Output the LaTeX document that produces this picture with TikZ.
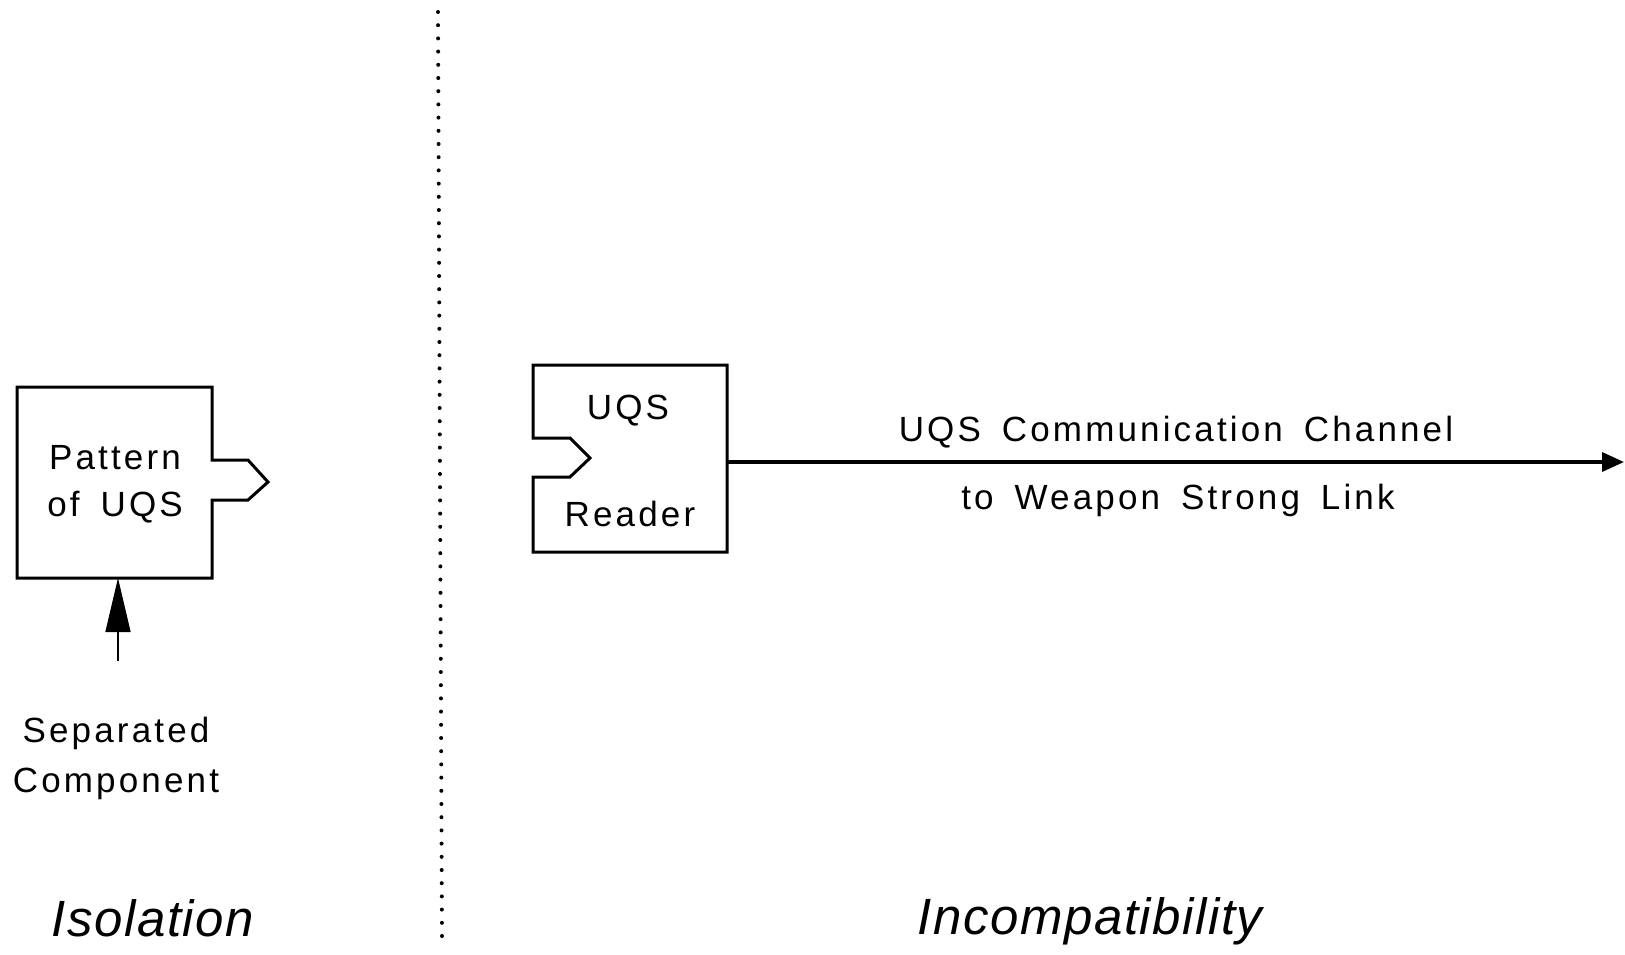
\documentclass[tikz,border=0pt]{standalone}
\usepackage{fontspec}
\setmainfont{Liberation Sans}
\newfontfamily\lblfont{Liberation Sans}[LetterSpace=9]
\newfontfamily\ttlfont{Liberation Sans}[LetterSpace=3]
\usetikzlibrary{arrows.meta}
\begin{document}
\begin{tikzpicture}[x=1pt,y=-1pt,
  lbl/.style={font=\lblfont\fontsize{35}{50}\selectfont, inner sep=0pt, align=center},
  ttl/.style={font=\ttlfont\fontsize{51}{55}\selectfont\itshape, inner sep=0pt},
  box/.style={line width=3pt, line join=miter},
]
\useasboundingbox (0,0) rectangle (1625,954);
% divider
\coordinate (dtop) at (438,12);
\coordinate (dbot) at (442,943);
\draw[line width=4pt, line cap=round, dash pattern=on 0pt off 13.2pt] (dtop) -- (dbot);
% Pattern box with tab
\draw[box] (17,387) -- (212,387) -- (212,460) -- (248,460) -- (268,482) -- (248,500) -- (212,500) -- (212,578) -- (17,578) -- cycle;
\coordinate (pbot) at (118,578);
\node[lbl] (pat1) at (115,458) {Pattern};
\node[lbl] (pat2) at (115,507) {of\hspace{0.6em}UQS};
% separated component
\node[lbl] (sep) at (116,758) {Separated\\Component};
\coordinate (arrstart) at (118,661);
\draw[line width=1.5pt, -{Triangle[length=54pt,width=25pt]}] (arrstart) -- (pbot);
% Reader box with notch
\draw[box] (533,365) -- (727,365) -- (727,552) -- (533,552) -- (533,477) -- (570,477) -- (590,458) -- (570,438) -- (533,438) -- cycle;
\node[lbl] (uqs) at (628,411) {UQS};
\node[lbl] (rdr) at (630,514) {Reader};
\coordinate (rright) at (727,462);
\coordinate (chend) at (1624,462);
\draw[line width=3.5pt, -{Triangle[length=22pt,width=19pt]}] (rright) -- (chend);
\node[lbl] (ch1) at (1176,432) {UQS\hspace{0.6em}Communication\hspace{0.6em}Channel};
\node[lbl] (ch2) at (1178,500) {to\hspace{0.6em}Weapon\hspace{0.6em}Strong\hspace{0.6em}Link};
% titles
\node[ttl] (iso) at (153,918) {Isolation};
\node[ttl] (inc) at (1090,921) {Incompatibility};
\end{tikzpicture}
\end{document}
